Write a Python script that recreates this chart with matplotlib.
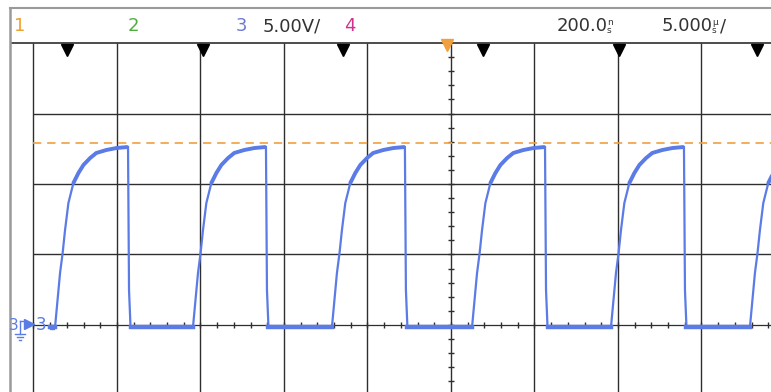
import numpy as np
import matplotlib.pyplot as plt

# scope settings (channel 3)
volts_per_div = 5.0
time_per_div = 5.0          # us
trig_level = 12.9           # V, orange dashed line
low_level = -0.15           # V

# rising edge instants (us, trigger = 0)
rise_times = [-23.71, -15.45, -7.13, 1.26, 9.58, 17.90]
trace_start = -24.0

# one pulse: time after rising edge (us) and level (V)
pulse_t = [0.0, 0.30, 0.455, 0.60, 0.80, 1.10, 1.40, 1.70, 2.10, 2.47, 3.07, 3.67, 4.31, 4.37, 4.43, 4.52]
pulse_v = [-0.15, 3.69, 5.11, 6.74, 8.65, 10.07, 10.78, 11.35, 11.84, 12.20, 12.41, 12.55, 12.62, 12.62, 2.48, -0.15]

# black cursor triangles along the top of the grid (us)
cursor_times = [-22.99, -14.85, -6.47, 1.92, 10.06, 18.32]

trace_col = "#5b7be6"
grid_col = "#2e2e2e"
orange = "#f0a040"

#build the trace
t = [trace_start]
v = [low_level]
for r in rise_times:
    t += [r + p for p in pulse_t]
    v += pulse_v

fig = plt.figure(figsize=(7.71, 3.92), dpi=100)
fig.patch.set_facecolor("white")
ax = fig.add_axes([0, 0, 1, 1])
xmin, xmax = -27.006, 19.162
ymin, ymax = -4.752, 23.05
ax.set_xlim(xmin, xmax)
ax.set_ylim(ymin, ymax)
ax.axis("off")

# graticule
top = 4 * volts_per_div
for k in range(-5, 4):
    ax.vlines(k * time_per_div, ymin, top, color=grid_col, lw=1.0, zorder=1)
for k in range(1, 4):
    ax.hlines(k * volts_per_div, -5 * time_per_div, xmax, color=grid_col, lw=1.0, zorder=1)
ax.hlines(top, -26.4, xmax, color=grid_col, lw=1.2, zorder=1)
ax.hlines(0, -5 * time_per_div, xmax, color=grid_col, lw=0.9, zorder=1)

# minor ticks on the centre axes
for m in np.arange(-25, 20, 1.0):
    ax.vlines(m, -0.2, 0.2, color=grid_col, lw=1.0, zorder=1)
for m in np.arange(-4, 20, 1.0):
    ax.hlines(m, -0.18, 0.18, color=grid_col, lw=1.0, zorder=1)

# trigger level
ax.hlines(trig_level, -5 * time_per_div, xmax, color=orange, lw=1.2,
          linestyles=(0, (5, 3.5)), zorder=2)

# trace
ax.plot(t, v, color=trace_col, lw=1.6, zorder=3, solid_joinstyle="miter")
# thicker low level and plateaus (noise band)
ax.plot([trace_start, rise_times[0]], [low_level, low_level], color=trace_col, lw=3.2, zorder=3)
for i, r in enumerate(rise_times):
    tt = [r + p for p in pulse_t if 1.1 <= p <= 4.31]
    vv = [pv for p, pv in zip(pulse_t, pulse_v) if 1.1 <= p <= 4.31]
    ax.plot(tt, vv, color=trace_col, lw=2.8, zorder=3, solid_capstyle="round")
    if i + 1 < len(rise_times):
        ax.plot([r + pulse_t[-1], rise_times[i + 1]], [low_level, low_level],
                color=trace_col, lw=3.2, zorder=3)

# cursors and trigger position marker
ax.plot(cursor_times, [19.5] * len(cursor_times), "v", color="black", ms=8, zorder=4)
ax.plot([-0.24], [19.85], "v", color=orange, ms=8, zorder=4)

# overlay in pixel units for frame, header and ground marker
ov = fig.add_axes([0, 0, 1, 1])
ov.set_xlim(0, 771)
ov.set_ylim(392, 0)
ov.axis("off")
ov.patch.set_alpha(0)
ov.plot([10, 10], [8, 392], color="#9a9a9a", lw=1.8)
ov.plot([10, 771], [8, 8], color="#9a9a9a", lw=1.5)

fam = ["Liberation Sans Narrow", "DejaVu Sans"]
hy = 26
ov.text(14, hy, "1", color="#f0a030", fontsize=13, va="center", family=fam)
ov.text(128, hy, "2", color="#4fae3f", fontsize=13, va="center", family=fam)
ov.text(236, hy, "3", color="#6c7ad6", fontsize=13, va="center", family=fam)
ov.text(263, hy, "5.00V/", color="#333333", fontsize=13, va="center", family=fam)
ov.text(344, hy, "4", color="#d0308e", fontsize=13, va="center", family=fam)
ov.text(557, hy, "200.0", color="#333333", fontsize=13, va="center", family=fam)
ov.text(607, hy - 4, "n", color="#333333", fontsize=6.5, va="center", family=fam)
ov.text(607, hy + 4, "s", color="#333333", fontsize=6.5, va="center", family=fam)
ov.text(662, hy, "5.000", color="#333333", fontsize=13, va="center", family=fam)
ov.text(712, hy - 4, "µ", color="#333333", fontsize=6.5, va="center", family=fam)
ov.text(712, hy + 4, "s", color="#333333", fontsize=6.5, va="center", family=fam)
ov.text(720, hy, "/", color="#333333", fontsize=13, va="center", family=fam)

# channel 3 ground marker
ov.text(9, 325, "3", color=trace_col, fontsize=11, va="center", family=fam)
ov.plot([20, 25], [321, 321], color=trace_col, lw=1.0)
ov.plot([20, 20], [321, 334], color=trace_col, lw=1.0)
ov.plot([15, 25], [334, 334], color=trace_col, lw=1.0)
ov.plot([17, 23], [337, 337], color=trace_col, lw=1.0)
ov.plot([19, 21], [340, 340], color=trace_col, lw=1.0)
ov.plot([29], [324], ">", color=trace_col, ms=7)
ov.text(36, 325, "3", color=trace_col, fontsize=12, va="center", family=fam)
ov.plot([52], [327], "s", color=trace_col, ms=3)

fig.savefig("out.png", dpi=100, facecolor="white")
